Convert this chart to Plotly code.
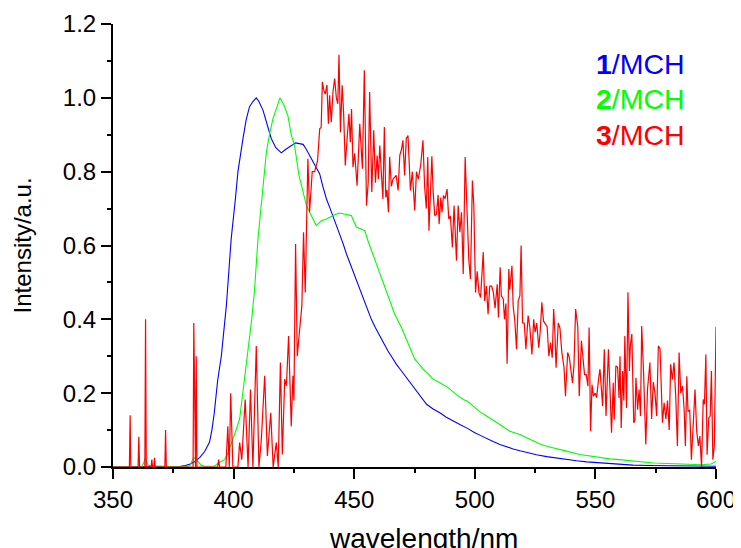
import plotly.graph_objects as go

# ---------------- data ----------------
blue_x = [350, 370, 378, 380, 382, 384, 386, 388, 390, 391, 392, 393.4, 394.9, 397, 399, 400.8, 401.8,
          403.9, 405.2, 406.6, 408, 409.4, 410.5, 412.2, 414.2, 415.6, 417.5, 419.8, 421.5, 423.2, 424.5,
          425.7, 427.2, 428.8, 430, 431.5, 433.5, 435.7, 437, 438.5, 439.8, 441.2, 442.6, 444, 445.4,
          446.8, 448.5, 450.2, 452, 453.7, 455.4, 457.1, 458.8, 460.6, 462.3, 464, 465.8, 467.5, 469.6,
          471.7, 473.4, 475.1, 477.5, 480, 482.7, 485.5, 488.2, 491, 493.8, 496.6, 498.3, 500, 502.5,
          504.9, 507.6, 510.4, 513, 515.9, 518.7, 521.5, 525.6, 529.8, 533.9, 538, 542.2, 546.4, 551.9,
          557.4, 561.5, 565.6, 572, 580, 590, 600]
blue_y = [0, 0, 0.002, 0.004, 0.008, 0.015, 0.026, 0.042, 0.067, 0.1, 0.147, 0.235, 0.30, 0.437, 0.618,
          0.73, 0.80, 0.89, 0.94, 0.976, 0.99, 1.0, 0.99, 0.966, 0.92, 0.89, 0.865, 0.851, 0.86, 0.868,
          0.872, 0.878, 0.876, 0.874, 0.862, 0.844, 0.82, 0.794, 0.76, 0.726, 0.704, 0.68, 0.658, 0.63,
          0.605, 0.577, 0.548, 0.518, 0.486, 0.455, 0.427, 0.40, 0.377, 0.355, 0.334, 0.314, 0.296, 0.278,
          0.26, 0.242, 0.225, 0.21, 0.19, 0.17, 0.157, 0.147, 0.135, 0.124, 0.115, 0.106, 0.099, 0.093,
          0.085, 0.077, 0.069, 0.061, 0.055, 0.049, 0.044, 0.039, 0.033, 0.028, 0.024, 0.02, 0.017, 0.014,
          0.011, 0.009, 0.007, 0.005, 0.004, 0.003, 0.002, 0.002]

green_x = [350, 362, 363.4, 364.5, 366, 380, 382, 383, 384, 385, 386.5, 388, 392, 394, 396.3, 397.5, 399,
           400.5, 402.5, 404.6, 406, 407.5, 408.7, 410.1, 411.7, 413.6, 415, 416.3, 417.7, 419.2, 420.9,
           422.5, 423.9, 425.3, 427.1, 428.8, 430.2, 432.2, 434.3, 436.4, 438.5, 441.2, 443.7, 445.4,
           447, 448.8, 450.9, 452.5, 454.4, 455.7, 458.5, 461.3, 464, 466.8, 469.6, 472.3, 475.1, 477,
           478.5, 481.3, 482.7, 485.5, 488.9, 492, 495.2, 497, 499.3, 502, 504.9, 507.5, 510.4, 514.5,
           518.7, 521.5, 524.2, 527, 529.8, 534, 538, 543.6, 548, 551.9, 556, 560, 566, 570, 574, 583,
           590, 594, 598, 600]
green_y = [0, 0, 0.023, 0.005, 0.003, 0, 0.005, 0.02, 0.025, 0.018, 0.005, 0.002, 0.002, 0.012, 0.02,
           0.035, 0.06, 0.09, 0.13, 0.238, 0.32, 0.40, 0.48, 0.618, 0.726, 0.853, 0.905, 0.943, 0.97, 1.0,
           0.98, 0.952, 0.90, 0.87, 0.79, 0.749, 0.708, 0.681, 0.654, 0.667, 0.672, 0.681, 0.688, 0.686,
           0.684, 0.681, 0.65, 0.645, 0.64, 0.613, 0.563, 0.514, 0.464, 0.414, 0.378, 0.337, 0.292, 0.278,
           0.266, 0.248, 0.238, 0.228, 0.215, 0.198, 0.183, 0.178, 0.165, 0.15, 0.138, 0.126, 0.115,
           0.097, 0.088, 0.079, 0.07, 0.062, 0.056, 0.05, 0.043, 0.034, 0.029, 0.025, 0.022, 0.02, 0.016,
           0.013, 0.011, 0.009, 0.007, 0.006, 0.008, 0.015]

red_x = [350, 356.8, 357.1, 357.4, 360.4, 360.7, 361.0, 363.2, 363.5, 363.8, 365.8, 366.1, 366.4, 366.9,
         367.2, 367.5, 371.5, 371.8, 372.1, 383.2, 383.5, 383.9, 384.2, 384.5, 384.8, 393.4, 393.8,
         394.2, 396.8, 397.6, 398.2, 398.8, 399.7, 401.8, 402.5, 403.4, 404.8, 406, 407, 408, 409.4,
         410.5, 411.5, 412.9, 414, 415.4, 416.4, 417.7, 418.5, 419.4, 420.2, 421.2, 421.9, 422.8, 423.9,
         424.6, 425, 425.7, 426.4, 427.4, 428.3, 429, 429.7, 430.8, 431.5, 432.6, 433.6, 434.8, 435.7,
         436.3, 436.8, 437.4, 438, 438.7, 439.3, 439.8, 440.5, 441.2, 441.9, 442.6, 443.2, 443.7, 444.3,
         445, 445.6, 446.3, 447, 447.8, 448.4, 448.9, 449.5, 450.2, 451.2, 452.3, 453.4, 454.2, 455.1,
         455.8, 456.4, 457.3, 458.1, 458.8, 459.5, 460, 460.6, 461.3, 461.9, 462.5, 463.1, 463.6, 464.2,
         464.7, 465.4, 466.1, 466.8, 467.4, 468.2, 468.9, 469.6, 470.2, 470.9, 471.6, 472.3, 473.3,
         474.1, 475.1, 475.8, 476.6, 477.6, 478.5, 479.2, 479.9, 480.5, 481, 482.2, 482.7, 483.4, 484.1,
         484.8, 485.2, 485.9, 486.4, 487, 487.7, 488.5, 489.2, 489.9, 490.7, 491.4, 492.4, 493.1, 493.8,
         494.5, 495.2, 496, 496.8, 497.5, 498.2, 499, 499.6, 500.3, 501, 501.7, 502.4, 503.5, 504.1,
         504.8, 505.5, 506.2, 507, 507.7, 508.4, 509.3, 509.8, 510.5, 511, 511.8, 512.3, 512.9, 513.4,
         514.1, 514.5, 515.4, 515.9, 516.6, 517.3, 518, 518.7, 519.2, 519.8, 520.5, 521.2, 522.1, 522.8,
         523.7, 524.4, 525, 525.7, 526.5, 527.1, 527.8, 528.5, 529.2, 530, 530.7, 531.4, 532.1, 532.7,
         533.2, 533.7, 534.6, 535.3, 536.1, 537, 537.6, 538.5, 539.2, 539.9, 540.5, 541.1, 541.8, 542.7,
         543.3, 544.2, 544.8, 545.5, 546.2, 546.9, 547.4, 548, 548.6, 549.2, 549.9, 550.5, 551.3, 551.9,
         553, 553.7, 554.4, 555.4, 556.1, 556.7, 557.4, 557.8, 558.5, 559.2, 559.8, 560.2, 560.7, 561.3,
         561.8, 562.2, 562.9, 563.5, 564.1, 564.5, 565.1, 565.9, 566.4, 566.8, 567.5, 568.1, 568.7,
         569.2, 570, 570.9, 571.6, 572.6, 573.3, 574, 574.7, 575.4, 576.1, 576.8, 577.8, 578.5, 579.2,
         579.9, 580.6, 581.2, 581.9, 582.6, 583.3, 584, 584.7, 585.4, 586.1, 586.8, 587.3, 587.9, 588.4,
         589.1, 589.8, 590.5, 591.3, 592, 592.7, 593.3, 594, 594.7, 595.2, 595.8, 596.3, 597, 597.6,
         598.1, 598.7, 599.3, 599.8, 600]
red_y = [0, 0, 0.14, 0, 0, 0.082, 0, 0, 0.40, 0, 0, 0.02, 0, 0, 0.025, 0, 0, 0.10, 0, 0, 0.39, 0, 0,
         0.30, 0, 0, 0.02, 0, 0, 0.11, 0, 0.20, 0, 0, 0.066, 0.02, 0.183, 0, 0.21, 0, 0.328, 0, 0.075,
         0.247, 0.03, 0.147, 0, 0.066, 0, 0.283, 0.034, 0.238, 0.22, 0.355, 0.11, 0.247, 0.18, 0.604,
         0.30, 0.373, 0.437, 0.636, 0.473, 0.835, 0.69, 0.80, 0.80, 0.83, 0.916, 0.92, 1.043, 1.02, 1.01,
         1.035, 0.93, 1.007, 0.934, 1.016, 1.052, 1.00, 0.984, 1.117, 0.907, 1.034, 0.96, 0.817, 0.88,
         0.957, 0.88, 0.97, 0.812, 0.85, 0.762, 0.93, 0.808, 1.075, 0.708, 0.77, 1.016, 0.745, 0.912,
         0.77, 0.844, 0.78, 0.871, 0.79, 0.726, 0.921, 0.73, 0.75, 0.69, 0.84, 0.76, 0.78, 0.784, 0.79,
         0.749, 0.844, 0.86, 0.885, 0.79, 0.89, 0.898, 0.749, 0.80, 0.695, 0.80, 0.78, 0.82, 0.885, 0.76,
         0.70, 0.84, 0.64, 0.842, 0.75, 0.681, 0.685, 0.737, 0.658, 0.73, 0.69, 0.735, 0.727, 0.753,
         0.672, 0.68, 0.595, 0.708, 0.559, 0.708, 0.636, 0.69, 0.523, 0.84, 0.66, 0.563, 0.509, 0.776,
         0.708, 0.473, 0.53, 0.473, 0.459, 0.582, 0.45, 0.49, 0.414, 0.49, 0.49, 0.473, 0.43, 0.495,
         0.405, 0.541, 0.464, 0.455, 0.40, 0.443, 0.28, 0.536, 0.48, 0.545, 0.436, 0.395, 0.319, 0.45,
         0.464, 0.60, 0.39, 0.39, 0.319, 0.41, 0.38, 0.305, 0.40, 0.365, 0.39, 0.323, 0.365, 0.446, 0.395,
         0.386, 0.38, 0.30, 0.337, 0.296, 0.428, 0.365, 0.269, 0.39, 0.376, 0.31, 0.269, 0.192, 0.31,
         0.296, 0.26, 0.228, 0.274, 0.428, 0.38, 0.192, 0.342, 0.30, 0.25, 0.25, 0.219, 0.378, 0.097,
         0.223, 0.192, 0.20, 0.188, 0.237, 0.265, 0.165, 0.319, 0.138, 0.319, 0.20, 0.093, 0.228, 0.128,
         0.274, 0.27, 0.187, 0.30, 0.106, 0.26, 0.18, 0.355, 0.16, 0.473, 0.26, 0.33, 0.36, 0.12, 0.125,
         0.242, 0.155, 0.21, 0.138, 0.382, 0.25, 0.061, 0.21, 0.283, 0.13, 0.23, 0.20, 0.138, 0.328, 0.32,
         0.12, 0.174, 0.13, 0.18, 0.10, 0.278, 0.237, 0.283, 0.192, 0.057, 0.31, 0.20, 0.22, 0.155, 0.057,
         0.246, 0.15, 0.155, 0.02, 0.115, 0.21, 0.097, 0.057, 0.084, 0, 0.183, 0.17, 0.305, 0.033, 0.133,
         0.138, 0.26, 0.02, 0.057, 0.273, 0.38]

series_names = ["1", "2", "3"]
series_colors = ["#0000FF", "#00FF00", "#FF0000"]

x_ticks = [350, 400, 450, 500, 550, 600]
y_ticks = [0.0, 0.2, 0.4, 0.6, 0.8, 1.0, 1.2]

FONT = "Liberation Sans, Arial, sans-serif"

fig = go.Figure()
for xs, ys, c, w in [(blue_x, blue_y, series_colors[0], 1.1),
                     (green_x, green_y, series_colors[1], 1.1),
                     (red_x, red_y, series_colors[2], 1.2)]:
    fig.add_trace(go.Scatter(x=xs, y=ys, mode="lines", line=dict(color=c, width=w),
                             showlegend=False, hoverinfo="skip"))

axis_common = dict(showgrid=False, zeroline=False, showline=True, linecolor="black", linewidth=2,
                   ticks="outside", ticklen=10, tickwidth=2, tickcolor="black", automargin=False,
                   tickfont=dict(family=FONT, size=24, color="black"))

fig.update_xaxes(range=[350, 600], tickvals=x_ticks, ticktext=[str(v) for v in x_ticks],
                 minor=dict(ticks="outside", ticklen=4, tickwidth=2, tickcolor="black", dtick=25, tick0=350),
                 **axis_common)
fig.update_yaxes(range=[0, 1.2], tickvals=y_ticks, ticktext=["%.1f" % v for v in y_ticks],
                 minor=dict(ticks="outside", ticklen=4, tickwidth=2, tickcolor="black", dtick=0.1, tick0=0),
                 **axis_common)

annotations = [
    dict(text="wavelength/nm", xref="paper", yref="paper", x=0.515, y=0, yshift=-54,
         xanchor="center", yanchor="top", showarrow=False,
         font=dict(family=FONT, size=28, color="black")),
    dict(text="Intensity/a.u.", xref="paper", yref="paper", x=0, y=0.5, xshift=-91,
         xanchor="center", yanchor="middle", textangle=-90, showarrow=False,
         font=dict(family=FONT, size=24, color="black")),
]
legend_y = [1.093, 0.996, 0.899]
for name, c, ly in zip(series_names, series_colors, legend_y):
    annotations.append(dict(text="<b>%s</b>/MCH" % name, x=588, y=ly, xref="x", yref="y",
                            xanchor="right", yanchor="middle", showarrow=False,
                            font=dict(family=FONT, size=28.5, color=c)))

# the page body adds an 8px offset, so the figure is 8px smaller and shifted margins compensate
fig.update_layout(width=733, height=540, margin=dict(l=105, r=25, t=16, b=81),
                  paper_bgcolor="white", plot_bgcolor="white", annotations=annotations)

fig.write_html("out.html")
